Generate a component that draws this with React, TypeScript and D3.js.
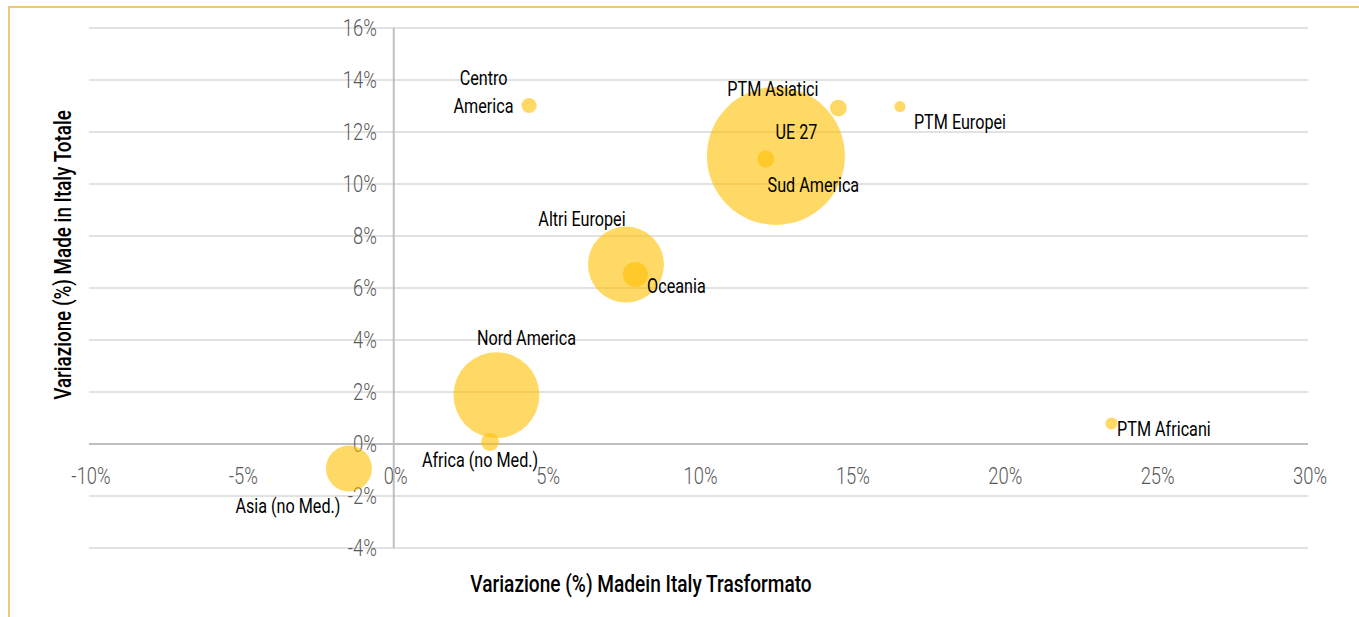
import React, { useEffect, useRef } from "react";
import * as d3 from "d3";

// regions (bubble labels)
const regions = [
  "Centro America",
  "PTM Asiatici",
  "PTM Europei",
  "UE 27",
  "Sud America",
  "Altri Europei",
  "Oceania",
  "Nord America",
  "Africa (no Med.)",
  "Asia (no Med.)",
  "PTM Africani",
];
// variazione % made in Italy trasformato (x)
const varTrasformato = [4.44, 14.59, 16.61, 12.54, 12.21, 7.62, 7.93, 3.37, 3.16, -1.47, 23.55];
// variazione % made in Italy totale (y)
const varTotale = [13.02, 12.92, 12.98, 11.08, 10.96, 6.9, 6.52, 1.88, 0.08, -0.94, 0.79];
// peso (bubble size, relative)
const peso = [1.2, 1.5, 0.64, 100, 1.5, 30.3, 3.3, 38.8, 1.7, 11.1, 0.76];

const xTicks = [-10, -5, 0, 5, 10, 15, 20, 25, 30];
const yTicks = [-4, -2, 0, 2, 4, 6, 8, 10, 12, 14, 16];

// label placement relative to bubble centre, px
const labelOffsets: [number, number][] = [
  [-45.5, -14], [-65.5, -20], [60, 15], [20.5, -24.5], [47.5, 25], [-44, -46.5],
  [41, 10.5], [30, -57.5], [-10, 17.5], [-61, 36.5], [52.5, 5],
];

const FONT = "Roboto, 'DejaVu Sans Condensed', sans-serif";

const BubbleChart: React.FC = () => {
  const ref = useRef<SVGSVGElement>(null);

  useEffect(() => {
    if (!ref.current) return;
    const svg = d3.select(ref.current);
    svg.selectAll("*").remove();

    const width = 1359;
    const height = 617;
    svg.attr("width", width).attr("height", height);

    const x = d3.scaleLinear().domain([-10, 30]).range([89, 1308]);
    const y = d3.scaleLinear().domain([-4, 16]).range([548, 28]);
    const r = d3.scaleSqrt().domain([0, d3.max(peso) || 1]).range([0, 69]);

    // frame
    svg.append("rect")
      .attr("x", 9).attr("y", 7)
      .attr("width", width + 20).attr("height", height + 20)
      .attr("fill", "white")
      .attr("stroke", "#f0c873").attr("stroke-width", 2);

    const g = svg.append("g").style("font-family", FONT);

    // condensed look: squeeze text horizontally
    const squeeze = (px: number, py: number, s: number) => `translate(${px},${py}) scale(${s},1)`;

    // horizontal gridlines
    g.selectAll(".grid")
      .data(yTicks.filter((t) => t !== 0))
      .enter().append("line")
      .attr("x1", x(-10)).attr("x2", x(30))
      .attr("y1", (d) => y(d)).attr("y2", (d) => y(d))
      .attr("stroke", "#d9d9d9").attr("stroke-width", 1.5);

    // axes lines
    g.append("line")
      .attr("x1", x(-10)).attr("x2", x(30))
      .attr("y1", y(0)).attr("y2", y(0))
      .attr("stroke", "#bfbfbf").attr("stroke-width", 2);
    g.append("line")
      .attr("x1", x(0)).attr("x2", x(0))
      .attr("y1", y(16)).attr("y2", y(-4))
      .attr("stroke", "#bfbfbf").attr("stroke-width", 2);

    // y tick labels
    g.selectAll(".ytick")
      .data(yTicks)
      .enter().append("text")
      .attr("transform", (d) => squeeze(x(0) - 17, y(d), 0.8))
      .attr("dy", "0.36em")
      .attr("text-anchor", "end")
      .attr("fill", "#595959")
      .style("font-size", "23px")
      .style("font-weight", 300)
      .text((d) => `${d}%`);

    // x tick labels
    g.selectAll(".xtick")
      .data(xTicks)
      .enter().append("text")
      .attr("transform", (d) => squeeze(x(d) + 2, y(0) + 32, 0.8))
      .attr("dy", "0.36em")
      .attr("text-anchor", "middle")
      .attr("fill", "#595959")
      .style("font-size", "23px")
      .style("font-weight", 300)
      .text((d) => `${d}%`);

    // bubbles, biggest first
    const idx = d3.range(regions.length).sort((a, b) => peso[b] - peso[a]);
    g.selectAll(".bubble")
      .data(idx)
      .enter().append("circle")
      .attr("cx", (i) => x(varTrasformato[i]))
      .attr("cy", (i) => y(varTotale[i]))
      .attr("r", (i) => r(peso[i]))
      .attr("fill", "#ffc000")
      .attr("fill-opacity", 0.6);

    // data labels
    const labels = g.selectAll(".lbl")
      .data(d3.range(regions.length))
      .enter().append("text")
      .attr("transform", (i) =>
        squeeze(x(varTrasformato[i]) + labelOffsets[i][0], y(varTotale[i]) + labelOffsets[i][1], 0.77))
      .attr("dy", "0.36em")
      .attr("text-anchor", "middle")
      .attr("fill", "#000")
      .style("font-size", "21px");

    labels.each(function (i) {
      const t = d3.select(this);
      const name = regions[i];
      if (name === "Centro America") {
        const parts = name.split(" ");
        t.append("tspan").attr("x", 0).attr("dy", "-0.3em").text(parts[0]);
        t.append("tspan").attr("x", 0).attr("dy", "1.33em").text(parts[1]);
      } else {
        t.text(name);
      }
    });

    // axis titles
    g.append("text")
      .attr("transform", squeeze(641, 584, 0.83))
      .attr("dy", "0.36em")
      .attr("text-anchor", "middle")
      .attr("fill", "#000")
      .style("font-size", "23px")
      .style("font-weight", 500)
      .text("Variazione (%) Madein Italy Trasformato");

    g.append("text")
      .attr("transform", "translate(62.5,255) rotate(-90) scale(0.82,1)")
      .attr("dy", "0.36em")
      .attr("text-anchor", "middle")
      .attr("fill", "#000")
      .style("font-size", "23px")
      .style("font-weight", 500)
      .text("Variazione (%) Made in Italy Totale");
  }, []);

  return <svg ref={ref} style={{ display: "block" }}></svg>;
};

export default function App() {
  return (
    <div style={{ position: "absolute", left: 0, top: 0 }}>
      <BubbleChart />
    </div>
  );
}
